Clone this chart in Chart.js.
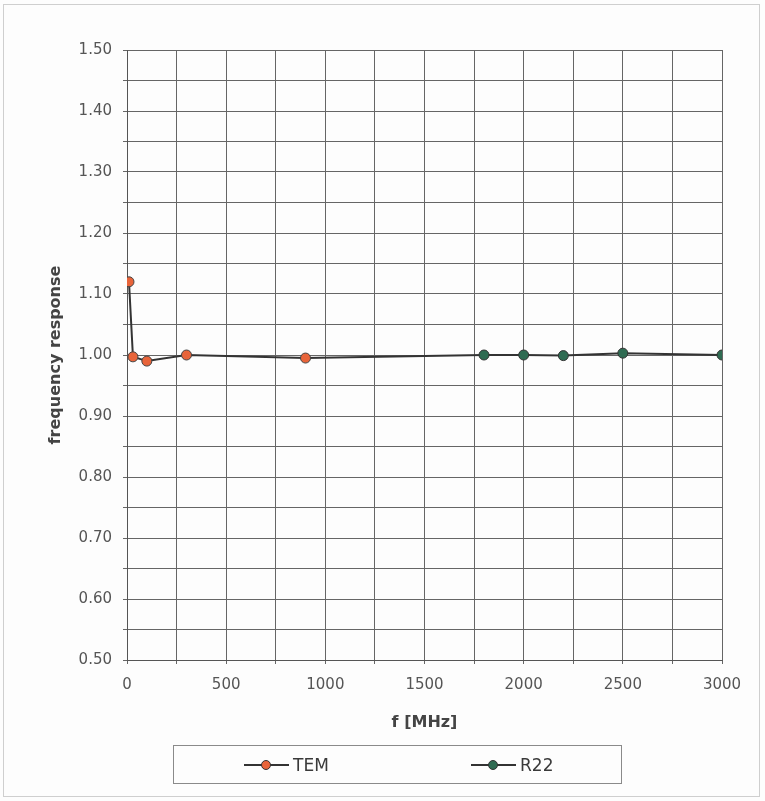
<!DOCTYPE html>
<html>
<head>
<meta charset="utf-8">
<script src="https://cdn.jsdelivr.net/npm/chart.js@4/dist/chart.umd.min.js"></script>
<style>
  body { margin: 0; background: #fff; }
  #wrap { position: relative; width: 765px; height: 801px; background: #fdfdfd; }
  #frame { position: absolute; left: 3px; top: 4px; width: 757px; height: 793px; border: 1px solid #cfcfcf; box-sizing: border-box; pointer-events: none; }
  #legend { position: absolute; left: 173px; top: 745px; width: 449px; height: 39px; border: 1px solid #8a8a8a; box-sizing: border-box; font-family: "DejaVu Sans", sans-serif; font-size: 17px; color: #3a3a3a; }
  .item { position: absolute; top: 9px; display: flex; align-items: center; }
  .sym { position: relative; width: 45px; height: 18px; margin-right: 4px; }
  .sym .ln { position: absolute; left: 0; right: 0; top: 8px; height: 2px; background: #333; }
  .sym .dot { position: absolute; left: 17px; top: 4px; width: 8px; height: 8px; border-radius: 50%; border: 1px solid #333; }
</style>
</head>
<body>
<div id="wrap">
  <canvas id="myChart" width="765" height="801"></canvas>
  <div id="frame"></div>
  <div id="legend"></div>
</div>
<script>
// values
const temFreq = [10, 30, 100, 300, 900]
const temResp = [1.12, 0.997, 0.99, 1.0, 0.995]
const r22Freq = [900, 1800, 2000, 2200, 2500, 3000]
const r22Resp = [0.995, 1.0, 1.0, 0.999, 1.003, 1.0]
const xTicks = [0, 500, 1000, 1500, 2000, 2500, 3000]
const yTicks = [0.5, 0.6, 0.7, 0.8, 0.9, 1.0, 1.1, 1.2, 1.3, 1.4, 1.5]

const temColor = '#e8643a'
const r22Color = '#2f6b52'

const toPoints = (xs, ys) => xs.map((x, i) => ({x: x, y: ys[i]}))

const ctx = document.getElementById('myChart').getContext('2d')
const chart = new Chart(ctx, {
  type: 'scatter',
  data: {
    datasets: [{
      label: 'TEM',
      data: toPoints(temFreq, temResp),
      showLine: true,
      borderColor: '#333',
      borderWidth: 2,
      backgroundColor: temColor,
      pointBackgroundColor: temColor,
      pointBorderColor: '#444',
      pointBorderWidth: 1,
      pointRadius: 5
    }, {
      label: 'R22',
      data: toPoints(r22Freq, r22Resp),
      showLine: true,
      borderColor: '#333',
      borderWidth: 2,
      backgroundColor: r22Color,
      pointBackgroundColor: r22Color,
      pointBorderColor: '#333',
      pointBorderWidth: 1,
      // first point is only the join from TEM, it has no marker
      pointRadius: r22Freq.map((f, i) => i === 0 ? 0 : 5)
    }]
  },
  options: {
    responsive: false,
    animation: false,
    layout: { padding: { left: 42, top: 50, right: 43, bottom: 65 } },
    plugins: { legend: { display: false }, tooltip: { enabled: false } },
    scales: {
      x: {
        type: 'linear',
        min: 0, max: 3000,
        afterFit: s => { s.height = 76 },
        afterBuildTicks: s => { s.ticks = []; for (let v = 0; v <= 3000; v += 250) s.ticks.push({value: v}) },
        grid: { color: '#666', lineWidth: 1, drawTicks: true, tickLength: 4 },
        border: { color: '#555' },
        ticks: {
          autoSkip: false, maxRotation: 0, padding: 12,
          color: '#555', font: { family: 'DejaVu Sans', size: 15 },
          callback: v => xTicks.includes(v) ? String(v) : ''
        },
        title: {
          display: true, text: 'f [MHz]', color: '#444', padding: 4,
          font: { family: 'DejaVu Sans', size: 16, weight: 'bold' }
        }
      },
      y: {
        min: 0.5, max: 1.5,
        afterFit: s => { s.width = 85 },
        afterBuildTicks: s => { s.ticks = []; for (let i = 0; i <= 20; i++) s.ticks.push({value: +(0.5 + i * 0.05).toFixed(2)}) },
        grid: { color: '#666', lineWidth: 1, drawTicks: true, tickLength: 4 },
        border: { color: '#555' },
        ticks: {
          autoSkip: false, padding: 11,
          color: '#555', font: { family: 'DejaVu Sans', size: 15 },
          callback: v => yTicks.some(t => Math.abs(t - v) < 1e-6) ? v.toFixed(2) : ''
        },
        title: {
          display: true, text: 'frequency response', color: '#444', padding: 4,
          font: { family: 'DejaVu Sans', size: 16, weight: 'bold' }
        }
      }
    }
  }
})

// legend box below the plot
const legend = document.getElementById('legend')
const lefts = [70, 297]
chart.data.datasets.forEach((ds, i) => {
  const item = document.createElement('div')
  item.className = 'item'
  item.style.left = lefts[i] + 'px'
  item.innerHTML = `<div class="sym"><div class="ln"></div><div class="dot" style="background:${ds.pointBackgroundColor}"></div></div><span>${ds.label}</span>`
  legend.appendChild(item)
})
</script>
</body>
</html>
